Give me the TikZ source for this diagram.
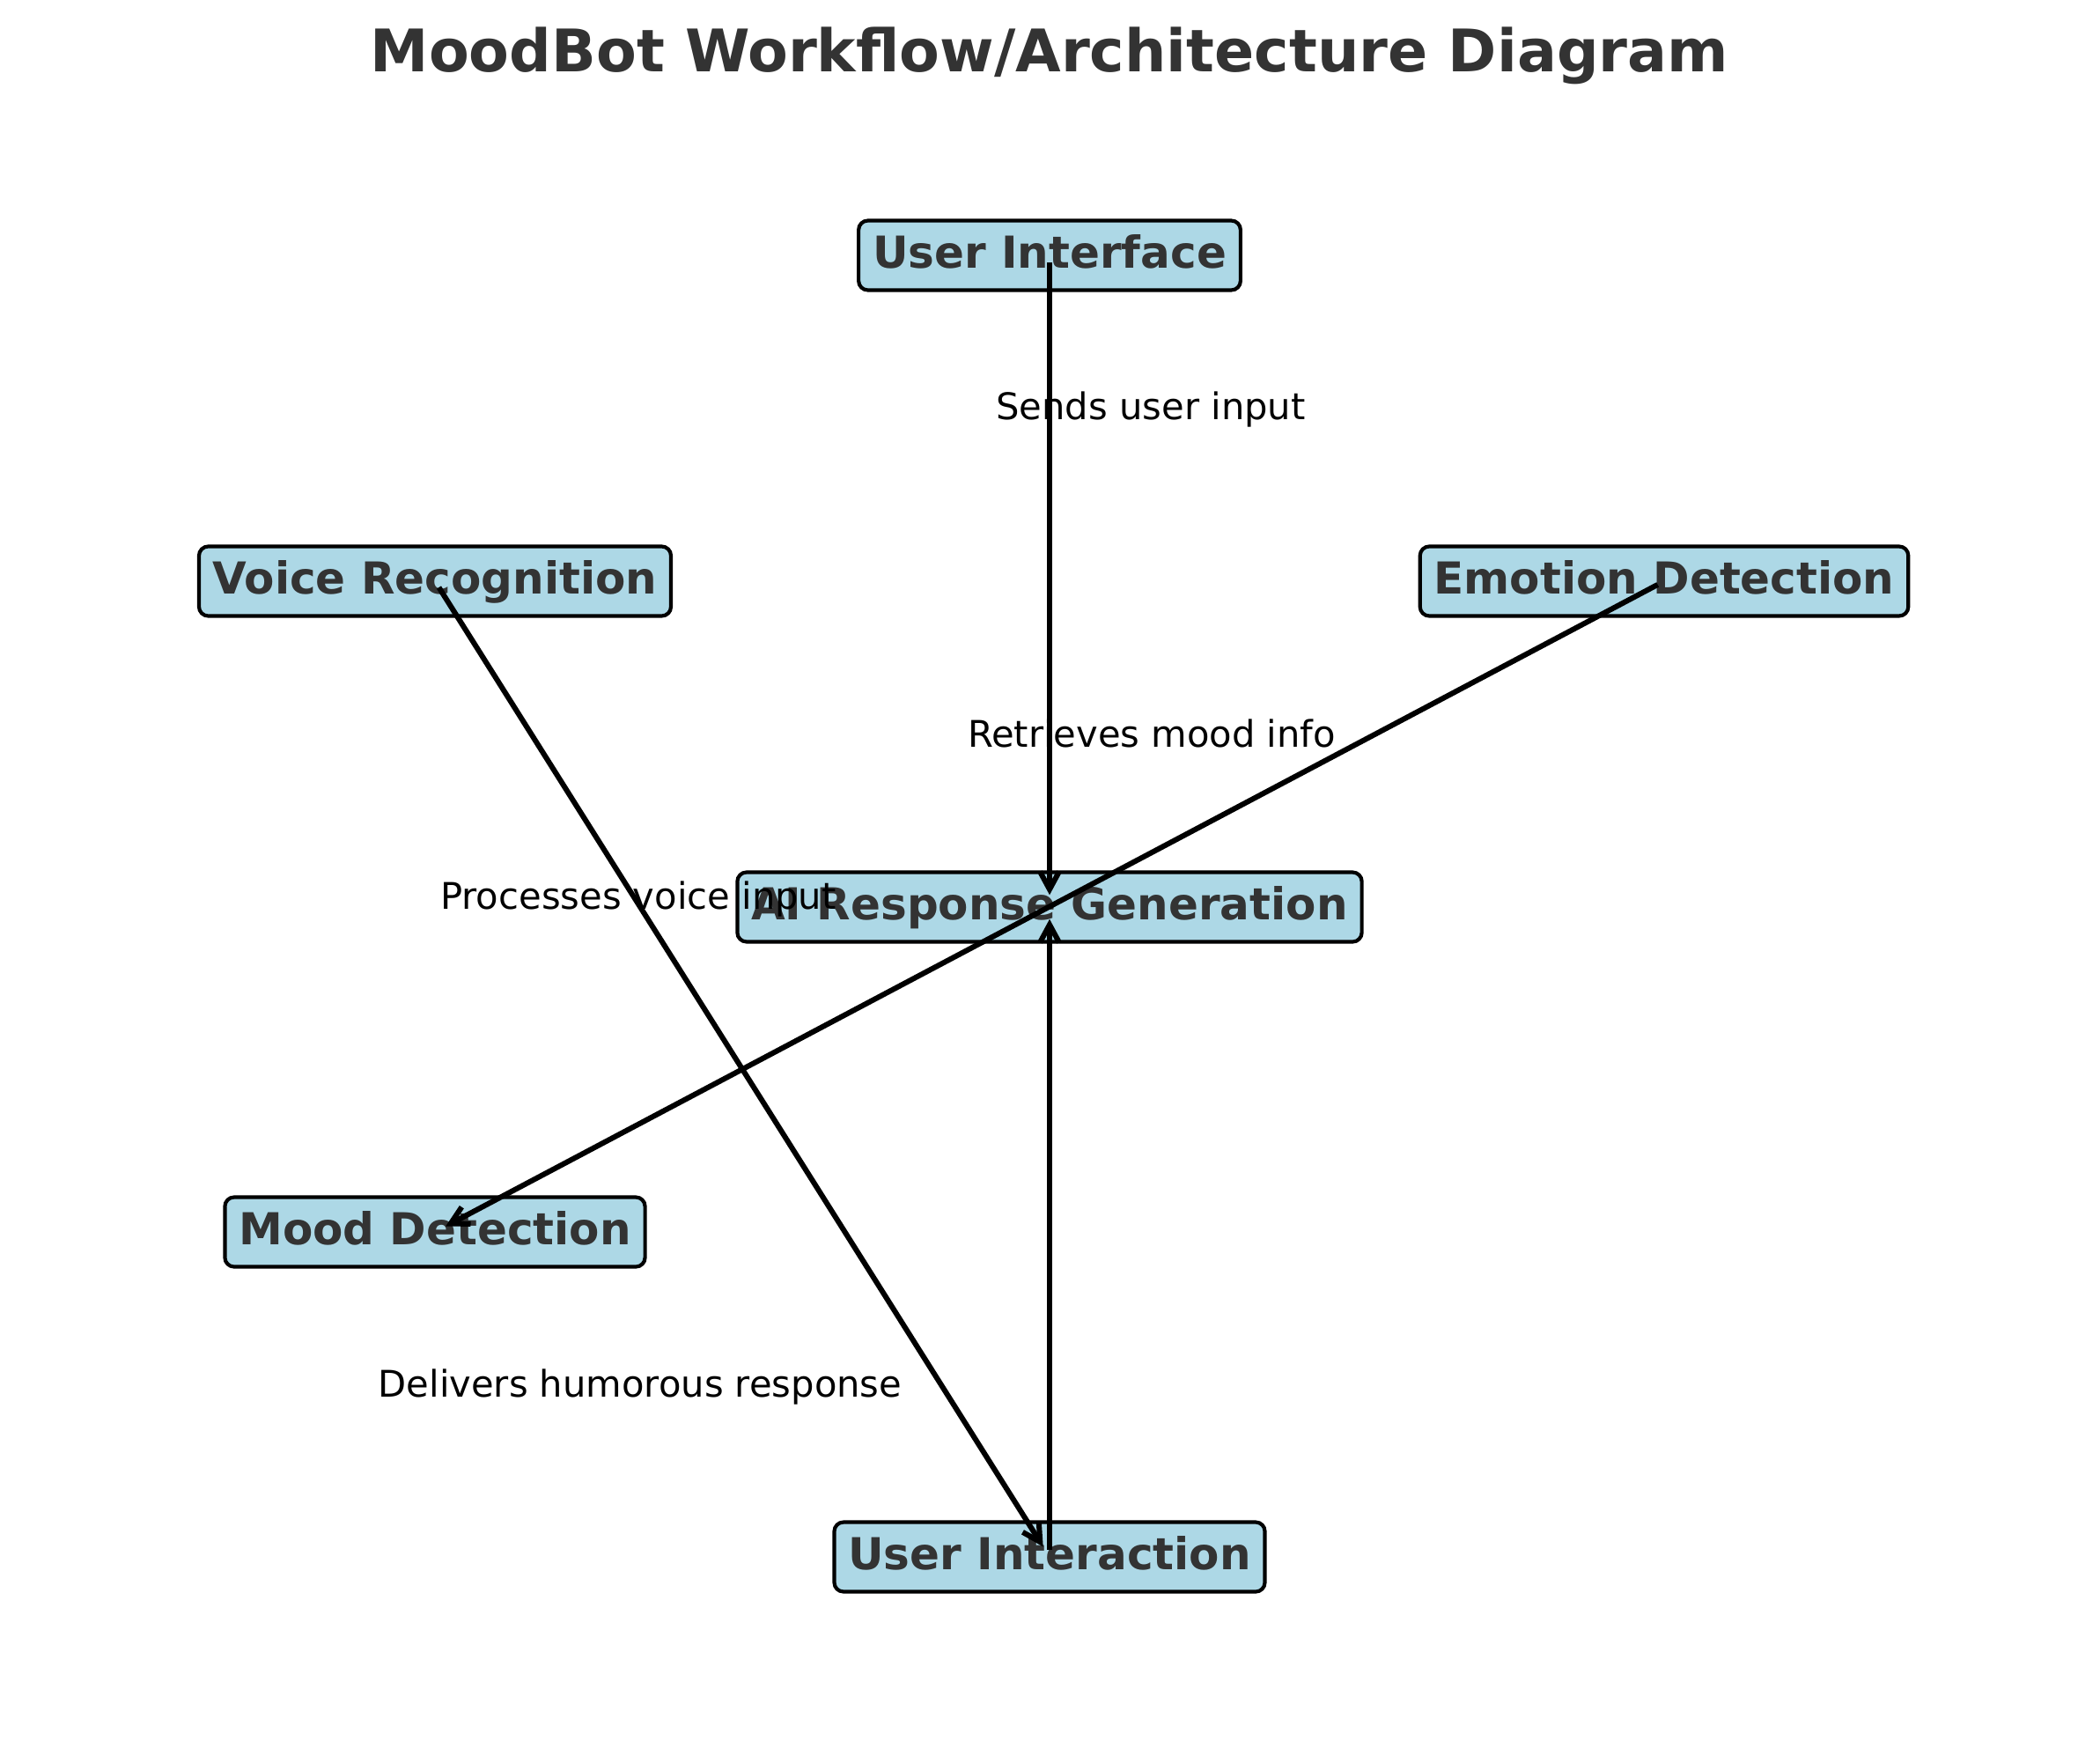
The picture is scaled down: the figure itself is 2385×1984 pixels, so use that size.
\documentclass[tikz,border=0pt]{standalone}
\usepackage{fontspec}
\setmainfont{DejaVu Sans}
\usetikzlibrary{arrows.meta}
\definecolor{boxblue}{HTML}{ADD8E6}
\definecolor{txtgray}{HTML}{333333}
\begin{document}
\begin{tikzpicture}[x=0.24pt,y=-0.24pt,
  block/.style={draw=black, line width=1pt, fill=boxblue, rounded corners=2.5pt,
    font=\bfseries\fontsize{12}{14}\selectfont, text=txtgray,
    inner xsep=3.8pt, inner ysep=4.3pt, text height=8.75pt, text depth=1.6pt},
  edgelabel/.style={font=\fontsize{10}{12}\selectfont, text=black, inner sep=0pt, anchor=base},
  flow/.style={draw=black, line width=1.45pt,
    -{Straight Barb[length=4.8pt,width=5.2pt]}, shorten >=3.3pt, shorten <=2pt}]
\useasboundingbox (0,0) rectangle (2385,1984);
\node[font=\bfseries\fontsize{16}{19}\selectfont, text=txtgray, anchor=base, inner sep=0pt] (title) at (1192,82) {MoodBot Workflow/Architecture Diagram};
% boxes
\node[block] (ui) at (1192,290) {User Interface};
\node[block] (voice) at (494,660) {Voice Recognition};
\node[block] (emotion) at (1890,660) {Emotion Detection};
\node[block] (ai) at (1192,1030) {AI Response Generation};
\node[block] (mood) at (494,1399) {Mood Detection};
\node[block] (interact) at (1192,1768) {User Interaction};
% labels
\node[edgelabel] (l1) at (1307,476) {Sends user input};
\node[edgelabel] (l2) at (1308,848) {Retrieves mood info};
\node[edgelabel] (l3) at (725,1032) {Processes voice input};
\node[edgelabel] (l4) at (727,1586) {Delivers humorous response};
% connectors
\draw[flow] (ui.center) -- (ai.center);
\draw[flow] (emotion.center) -- (mood.center);
\draw[flow] (voice.center) -- (interact.center);
\draw[flow] (interact.center) -- (ai.center);
\end{tikzpicture}
\end{document}
